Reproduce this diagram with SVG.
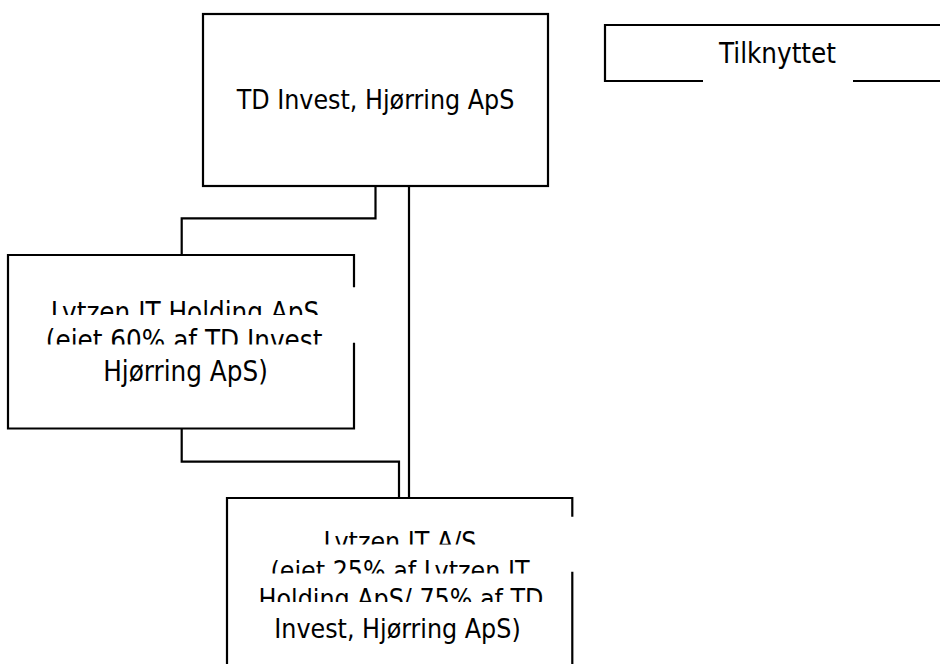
<svg xmlns="http://www.w3.org/2000/svg" width="940" height="664" viewBox="0 0 940 664">
<style>
.b{fill:none;stroke:#000;stroke-width:2.2}
.c{fill:none;stroke:#000;stroke-width:2.2}
text{font-family:"DejaVu Sans Condensed","DejaVu Sans",sans-serif;font-size:26.5px;fill:#000;text-anchor:middle}
.l{font-size:27.5px}
</style>
<defs>
<clipPath id="c21"><rect x="0" y="280" width="400" height="35"/></clipPath>
<clipPath id="c22"><rect x="0" y="320" width="400" height="24.5"/></clipPath>
<clipPath id="c31"><rect x="220" y="510" width="400" height="34.5"/></clipPath>
<clipPath id="c32"><rect x="220" y="550" width="400" height="23.5"/></clipPath>
<clipPath id="c33"><rect x="220" y="580" width="400" height="22"/></clipPath>
</defs>
<rect width="940" height="664" fill="#fff"/>
<g id="connectors">
<path class="c" d="M375.5 186 V218.3 H181.7 V255"/>
<path class="c" d="M409 186 V498"/>
<path class="c" d="M181.7 428.5 V461.7 H399 V498"/>
</g>
<g id="td-invest">
<rect class="b" x="203" y="14" width="345" height="172" fill="#fff"/>
<text x="375.5" y="108.5">TD Invest, Hjørring ApS</text>
</g>
<g id="tilknyttet">
<path class="b" d="M945 25 H605 V81 H703 M853 81 H945"/>
<text class="l" x="777.5" y="62.5">Tilknyttet</text>
</g>
<g id="lytzen-holding">
<path class="b" d="M354 287.3 V255 H8 V428.5 H354 V342.7"/>
<text class="l" x="185" y="322" clip-path="url(#c21)">Lytzen IT Holding ApS</text>
<text class="l" x="188" y="350" clip-path="url(#c22)">(ejet 60% af TD Invest,</text>
<text class="l" x="185.5" y="381">Hjørring ApS)</text>
</g>
<g id="lytzen-as">
<path class="b" d="M572.3 516.7 V498 H227 V670 M572.3 571.7 V670"/>
<text x="400" y="551" clip-path="url(#c31)">Lytzen IT A/S</text>
<text x="400" y="579.5" clip-path="url(#c32)">(ejet 25% af Lytzen IT</text>
<text x="401" y="607.5" clip-path="url(#c33)">Holding ApS/ 75% af TD</text>
<text x="397.5" y="638">Invest, Hjørring ApS)</text>
</g>
</svg>
